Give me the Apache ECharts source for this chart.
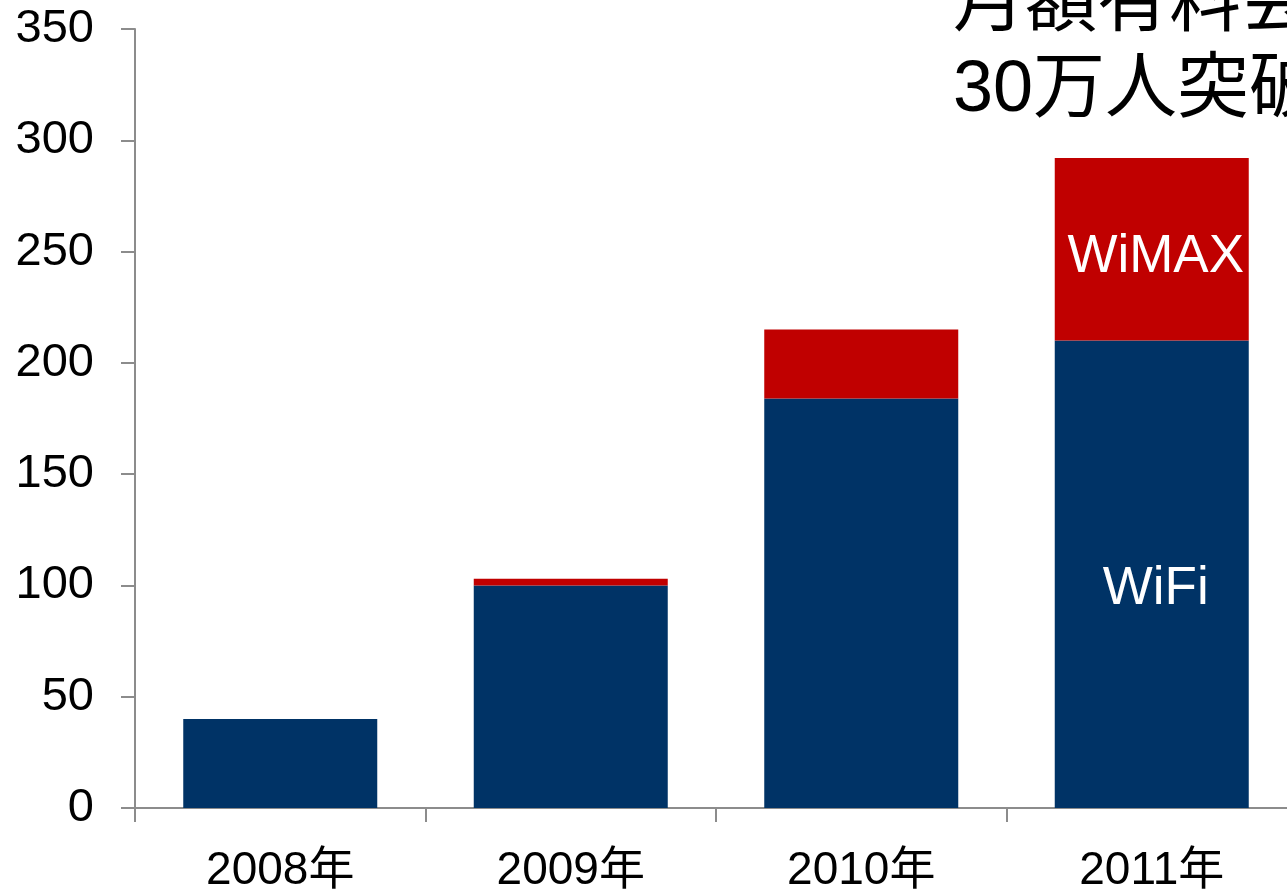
<!DOCTYPE html>
<html>
<head>
<meta charset="utf-8">
<script src="https://cdn.jsdelivr.net/npm/echarts@6/dist/echarts.min.js"></script>
<style>
html,body{margin:0;padding:0;background:#fff;}
#c{width:1287px;height:891px;}
</style>
</head>
<body>
<div id="c"></div>
<script>
const categories = ['2008年', '2009年', '2010年', '2011年'];
const wifi = [40, 100, 184, 210];
const wimax = [0, 3, 31, 82];
const yTicks = [0, 50, 100, 150, 200, 250, 300, 350];
const titleLines = ['月額有料会員', '30万人突破'];

const FONT = '"Liberation Sans", Arial, "Noto Sans CJK JP", sans-serif';
const chart = echarts.init(document.getElementById('c'));

const wifiData = wifi.map((v, i) => i === 3 ? {
  value: v,
  label: { show: true, position: 'inside', formatter: 'WiFi', color: '#fff', fontSize: 53, fontFamily: FONT, offset: [4, 15] }
} : v);
const wimaxData = wimax.map((v, i) => i === 3 ? {
  value: v,
  label: { show: true, position: 'inside', formatter: 'WiMAX', color: '#fff', fontSize: 53, fontFamily: FONT, offset: [4, 8] }
} : v);

chart.setOption({
  animation: false,
  backgroundColor: '#fff',
  title: {
    text: titleLines.join('\n'),
    left: 953,
    top: -38,
    padding: 0,
    textStyle: { fontSize: 72, fontWeight: 'normal', color: '#000', fontFamily: FONT, lineHeight: 86 }
  },
  grid: { left: 135, top: 29, bottom: 83, right: -10, containLabel: false, outerBoundsMode: 'none' },
  xAxis: {
    type: 'category',
    data: categories,
    axisLine: { lineStyle: { color: '#8c8c8c', width: 2 } },
    axisTick: { show: true, length: 14, lineStyle: { color: '#8c8c8c', width: 2 } },
    axisLabel: { color: '#000', fontSize: 46, fontFamily: FONT, margin: 40 }
  },
  yAxis: {
    type: 'value',
    min: yTicks[0],
    max: yTicks[yTicks.length - 1],
    interval: 50,
    axisLine: { show: true, lineStyle: { color: '#8c8c8c', width: 2 } },
    axisTick: { show: true, length: 14, lineStyle: { color: '#8c8c8c', width: 2 } },
    splitLine: { show: false },
    axisLabel: { color: '#000', fontSize: 47, fontFamily: FONT, margin: 41 }
  },
  series: [
    { name: 'WiFi', type: 'bar', stack: 'a', data: wifiData, barWidth: 194, itemStyle: { color: '#003366' } },
    { name: 'WiMAX', type: 'bar', stack: 'a', data: wimaxData, barWidth: 194, itemStyle: { color: '#C00000' } }
  ]
});
</script>
</body>
</html>
